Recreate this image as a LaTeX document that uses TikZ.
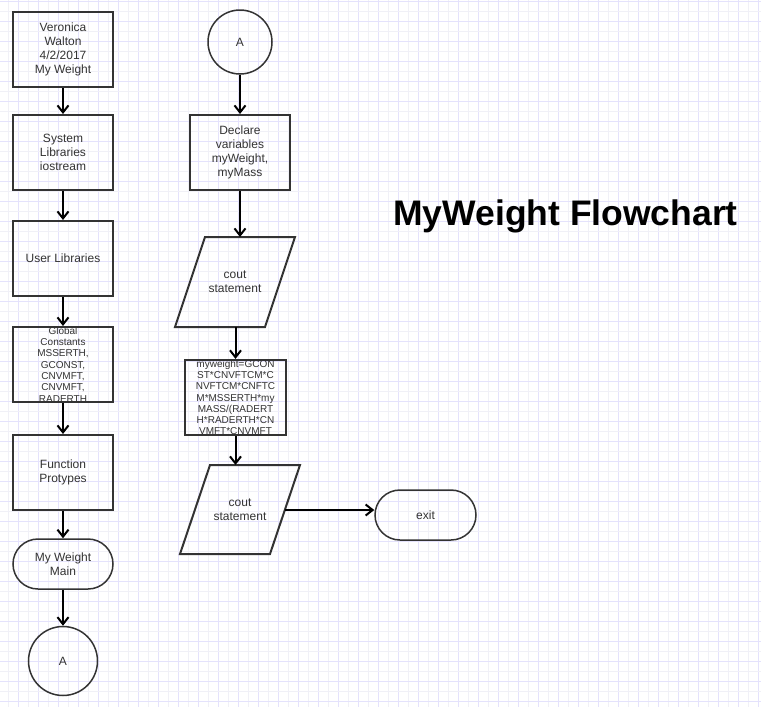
\documentclass[tikz,border=0pt]{standalone}
\usepackage{fontspec}
\setmainfont{Liberation Sans}
\usetikzlibrary{arrows.meta}
\definecolor{ink}{RGB}{51,51,51}
\definecolor{gridA}{RGB}{228,226,252}
\definecolor{gridB}{RGB}{240,240,247}
\tikzset{
  stepbox/.style={draw=ink, line width=2pt, minimum width=100pt, minimum height=75pt, inner sep=0pt, align=center, text=ink, font=\fontsize{12}{14}\selectfont},
  smallbox/.style={stepbox, font=\fontsize{10}{11.3}\selectfont},
  term/.style={draw=ink, line width=1.5pt, rounded corners=25pt, minimum width=100pt, minimum height=50pt, inner sep=0pt, align=center, text=ink, font=\fontsize{12}{14}\selectfont},
  conn/.style={draw=ink, circle, line width=1.5pt, inner sep=0pt, text=ink, font=\fontsize{12}{14}\selectfont},
  ptext/.style={inner sep=0pt, align=center, text=ink, font=\fontsize{12}{14}\selectfont},
  para/.style={draw=ink, line width=2pt, line join=miter},
  arr/.style={draw=black, line width=2pt, -{Straight Barb[length=7pt,width=11pt]}},
}
\begin{document}
\begin{tikzpicture}[x=1pt,y=-1pt]
\useasboundingbox (0,0) rectangle (761,707);
\fill[white] (0,0) rectangle (761,707);
% grid
\foreach \i in {0,...,75}{
  \pgfmathsetmacro\xx{8.5+10*\i}
  \ifodd\i \def\gc{gridA}\else\def\gc{gridB}\fi
  \draw[\gc, line width=1pt] (\xx,0) -- (\xx,707);
}
\foreach \i in {0,...,70}{
  \pgfmathsetmacro\yy{1.5+10*\i}
  \ifodd\i \def\gc{gridB}\else\def\gc{gridA}\fi
  \draw[\gc, line width=1pt] (0,\yy) -- (761,\yy);
}
% left column
\node[stepbox] (b1) at (63,49.5) {Veronica\\Walton\\4/2/2017\\My Weight};
\node[stepbox] (b2) at (63,152.5) {System\\Libraries\\iostream};
\node[stepbox] (b3) at (63,258.5) {User Libraries};
\node[smallbox] (b4) at (63,364.5) {Global\\Constants\\MSSERTH,\\GCONST,\\CNVMFT,\\CNVMFT,\\RADERTH};
\node[stepbox] (b5) at (63,472.5) {Function\\Protypes};
\node[term] (t1) at (63,564) {My Weight\\Main};
\node[conn, minimum size=69pt] (c1) at (63,661) {A};
% middle column
\node[conn, minimum size=64pt] (c2) at (240,42) {A};
\node[stepbox] (b6) at (240,152.5) {Declare\\variables\\myWeight,\\myMass};
\node[ptext] (p1) at (235,282) {cout\\statement};
\draw[para] (205,237) -- (295,237) -- (265,327) -- (175,327) -- cycle;
\coordinate (p1top) at (240,237);
\coordinate (p1bot) at (235.5,327);
\node[smallbox, minimum width=101pt] (f) at (235.5,397.5) {myweight=GCON\\ST*CNVFTCM*C\\NVFTCM*CNFTC\\M*MSSERTH*my\\MASS/(RADERT\\H*RADERTH*CN\\VMFT*CNVMFT};
\node[ptext] (p2) at (240,510) {cout\\statement};
\draw[para] (210,465) -- (300,465) -- (270,554) -- (180,554) -- cycle;
\coordinate (p2top) at (235.5,465);
\coordinate (p2r) at (285,510);
\node[term, minimum width=101pt] (ex) at (425.5,515) {exit};
% title
\node[font=\bfseries\fontsize{35.5}{40}\selectfont, text=black, inner sep=0pt] (title) at (565.5,216) {MyWeight Flowchart};
% arrows
\draw[arr] (b1.south) -- (b2.north);
\draw[arr] (b2.south) -- (b3.north);
\draw[arr] (b3.south) -- (b4.north);
\draw[arr] (b4.south) -- (b5.north);
\draw[arr] (b5.south) -- (t1.north);
\draw[arr] (t1.south) -- (c1.north);
\draw[arr] (c2.south) -- (b6.north);
\draw[arr] (b6.south) -- (p1top);
\draw[arr] (p1bot) -- (p1bot |- f.north);
\draw[arr] (f.south) -- (p2top);
\draw[arr] (p2r) -- (ex.west |- p2r);
\end{tikzpicture}
\end{document}
